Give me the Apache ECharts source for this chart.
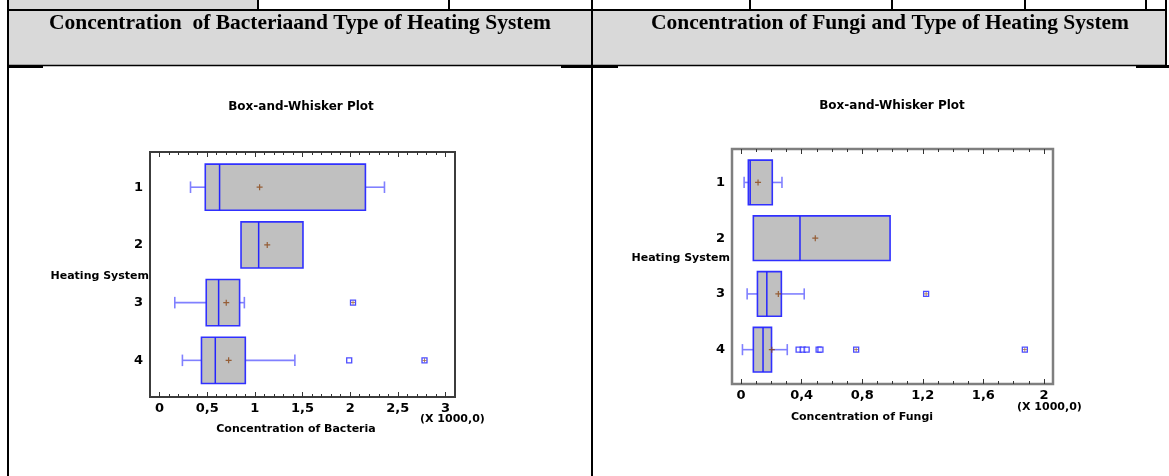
<!DOCTYPE html>
<html>
<head>
<meta charset="utf-8">
<script src="https://cdn.jsdelivr.net/npm/echarts@6/dist/echarts.min.js"></script>
<style>
  html, body { margin: 0; padding: 0; background: #fff; }
  #chart { width: 1169px; height: 476px; }
</style>
</head>
<body>
<div id="chart"></div>
<script>
// Heating system groups (y categories, top to bottom)
const heatingSystems = ['1', '2', '3', '4'];

// Bacteria: [lower whisker, Q1, median, Q3, upper whisker] per heating system
const bacteriaBox = [
  [325, 480, 630, 2160, 2360],
  [855, 855, 1040, 1505, 1505],
  [160, 490, 620, 840, 890],
  [240, 440, 585, 900, 1420]
];
const bacteriaMean = [1050, 1130, 700, 725];
const bacteriaOutside = [[], [], [], [1990]];
const bacteriaFarOutside = [[], [], [2030], [2780]];
const bacteriaTicks = [0, 500, 1000, 1500, 2000, 2500, 3000];

// Fungi: [lower whisker, Q1, median, Q3, upper whisker] per heating system
const fungiBox = [
  [20, 48, 60, 206, 270],
  [81, 81, 389, 984, 984],
  [40, 108, 170, 266, 417],
  [9, 81, 145, 201, 305]
];
const fungiMean = [112, 490, 246, 203];
const fungiOutside = [[], [], [], [380, 407, 433, 512, 524]];
const fungiFarOutside = [[], [], [1222], [760, 1874]];
const fungiTicks = [0, 400, 800, 1200, 1600, 2000];

const FONT = '"DejaVu Sans", Verdana, sans-serif';
const TEXT_FONT = 'bold 11px ' + FONT;
const HEAD_FONT = 'bold 21.5px "Liberation Serif", "Times New Roman", serif';
const BOX_FILL = '#c0c0c0';
const BOX_LINE = '#3030ff';
const WHISKER_LINE = '#8080ff';
const MEAN_COLOR = '#8b4513';
const PLUS = 'path://M2,0H3V2H5V3H3V5H2V3H0V2H2Z';

function minorTicks(maxVal) {
  const out = [];
  for (let v = 0; v <= maxVal; v += 100) out.push(v);
  return out;
}

function thousands(v) {
  return String(Math.round(v) / 1000).replace('.', ',');
}

// Four x axes per grid: bottom labels + major ticks, bottom minor ticks, top major, top minor
function xAxesFor(gridIndex, min, max, majors) {
  const base = {
    gridIndex, type: 'value', min, max,
    axisLine: { show: false }, splitLine: { show: false }
  };
  const minors = minorTicks(majors[majors.length - 1]);
  return [
    Object.assign({}, base, {
      position: 'bottom',
      axisTick: { inside: true, length: 5, customValues: majors, lineStyle: { color: '#333', width: 1 } },
      axisLabel: {
        customValues: majors, formatter: thousands, margin: 5,
        color: '#000', fontWeight: 'bold', fontSize: 13, fontFamily: FONT
      }
    }),
    Object.assign({}, base, {
      position: 'bottom',
      axisTick: { inside: true, length: 3, customValues: minors, lineStyle: { color: '#333', width: 1 } },
      axisLabel: { show: false }
    }),
    Object.assign({}, base, {
      position: 'top',
      axisTick: { inside: true, length: 5, customValues: majors, lineStyle: { color: '#333', width: 1 } },
      axisLabel: { show: false }
    }),
    Object.assign({}, base, {
      position: 'top',
      axisTick: { inside: true, length: 3, customValues: minors, lineStyle: { color: '#333', width: 1 } },
      axisLabel: { show: false }
    })
  ];
}

function yAxisFor(gridIndex, min, max) {
  return {
    gridIndex, type: 'value', inverse: true, min, max,
    axisLine: { show: false }, axisTick: { show: false }, splitLine: { show: false },
    axisLabel: {
      customValues: [1, 2, 3, 4],
      formatter: v => heatingSystems[Math.round(v) - 1],
      margin: 7, color: '#000', fontWeight: 'bold', fontSize: 13, fontFamily: FONT
    }
  };
}

// Box, whiskers, caps and median for one heating system
function renderBox(params, api) {
  const y = api.value(0);
  const low = api.coord([api.value(1), y]);
  const q1 = api.coord([api.value(2), y]);
  const med = api.coord([api.value(3), y]);
  const q3 = api.coord([api.value(4), y]);
  const high = api.coord([api.value(5), y]);
  const half = api.size([0, 0.8])[1] / 2;
  const cap = api.size([0, 0.2])[1] / 2;
  const cy = low[1];
  const wStyle = { stroke: WHISKER_LINE, lineWidth: 1.6 };
  const children = [];
  if (q1[0] - low[0] > 0.5) {
    children.push({ type: 'line', shape: { x1: low[0], y1: cy, x2: q1[0], y2: cy }, style: wStyle });
    children.push({ type: 'line', shape: { x1: low[0], y1: cy - cap, x2: low[0], y2: cy + cap }, style: wStyle });
  }
  if (high[0] - q3[0] > 0.5) {
    children.push({ type: 'line', shape: { x1: q3[0], y1: cy, x2: high[0], y2: cy }, style: wStyle });
    children.push({ type: 'line', shape: { x1: high[0], y1: cy - cap, x2: high[0], y2: cy + cap }, style: wStyle });
  }
  children.push({
    type: 'rect',
    shape: { x: q1[0], y: cy - half, width: q3[0] - q1[0], height: half * 2 },
    style: { fill: BOX_FILL, stroke: BOX_LINE, lineWidth: 1.6 }
  });
  children.push({
    type: 'line',
    shape: { x1: med[0], y1: cy - half, x2: med[0], y2: cy + half },
    style: { stroke: '#2424ff', lineWidth: 1.5 }
  });
  return { type: 'group', children };
}

function seriesFor(gridAxis, box, mean, outside, farOutside) {
  const boxData = box.map((b, i) => [i + 1].concat(b));
  const meanData = mean.map((m, i) => [m, i + 1]);
  const outData = outside.flatMap((vals, i) => vals.map(v => [v, i + 1]));
  const farData = farOutside.flatMap((vals, i) => vals.map(v => [v, i + 1]));
  const axes = { xAxisIndex: gridAxis * 4, yAxisIndex: gridAxis };
  return [
    Object.assign({
      type: 'custom', renderItem: renderBox, data: boxData,
      encode: { x: [1, 2, 3, 4, 5], y: 0 }, z: 2, silent: true
    }, axes),
    Object.assign({
      type: 'scatter', data: outData.concat(farData), symbol: 'rect', symbolSize: 5,
      itemStyle: { color: '#ffffff', borderColor: '#2020ff', borderWidth: 1.3 }, z: 3, silent: true
    }, axes),
    Object.assign({
      type: 'scatter', data: farData, symbol: PLUS, symbolSize: 4,
      itemStyle: { color: MEAN_COLOR }, z: 4, silent: true
    }, axes),
    Object.assign({
      type: 'scatter', data: meanData, symbol: PLUS, symbolSize: 6,
      itemStyle: { color: MEAN_COLOR }, z: 4, silent: true
    }, axes)
  ];
}

function text(str, x, y, font, align) {
  return {
    type: 'text', z: 10, silent: true,
    style: { text: str, x, y, font: font || TEXT_FONT, fill: '#000',
             textAlign: align || 'center', textVerticalAlign: 'middle' }
  };
}
function hline(x1, x2, y, w) {
  return { type: 'line', z: 5, silent: true, shape: { x1, y1: y, x2, y2: y }, style: { stroke: '#000', lineWidth: w } };
}
function vline(x, y1, y2, w) {
  return { type: 'line', z: 5, silent: true, shape: { x1: x, y1, x2: x, y2 }, style: { stroke: '#000', lineWidth: w } };
}

// Table frame around the two panels
const tableGraphics = [
  { type: 'rect', z: 1, silent: true, shape: { x: 8, y: 0, width: 250, height: 10 }, style: { fill: '#d9d9d9' } },
  { type: 'rect', z: 1, silent: true, shape: { x: 8, y: 10, width: 1158, height: 55.5 }, style: { fill: '#d9d9d9' } },
  hline(7, 1167, 10, 2),
  hline(7, 1167, 65.5, 1.5),
  hline(7, 43, 66.5, 3),
  hline(561, 618, 66.5, 3),
  hline(1136, 1169, 66.5, 3),
  vline(8, 0, 476, 2),
  vline(592, 0, 476, 2),
  vline(258, 0, 10, 2),
  vline(449, 0, 10, 2),
  vline(750, 0, 10, 2),
  vline(892, 0, 10, 2),
  vline(1025, 0, 10, 2),
  vline(1146, 0, 10, 2),
  vline(1166, 0, 66, 2),
  text('Concentration  of Bacteriaand Type of Heating System', 300, 23, HEAD_FONT),
  text('Concentration of Fungi and Type of Heating System', 890, 23, HEAD_FONT)
];

const chartText = [
  text('Box-and-Whisker Plot', 301, 107, 'bold 12px ' + FONT),
  text('Heating System', 149, 276, TEXT_FONT, 'right'),
  text('Concentration of Bacteria', 296, 429),
  text('(X 1000,0)', 420, 419, TEXT_FONT, 'left'),
  text('Box-and-Whisker Plot', 892, 106, 'bold 12px ' + FONT),
  text('Heating System', 730, 258, TEXT_FONT, 'right'),
  text('Concentration of Fungi', 862, 417),
  text('(X 1000,0)', 1017, 407, TEXT_FONT, 'left')
];

const chart = echarts.init(document.getElementById('chart'), null, { renderer: 'canvas' });
chart.setOption({
  backgroundColor: '#ffffff',
  animation: false,
  grid: [
    { left: 150, top: 152, width: 305, height: 245, show: true, borderColor: '#3c3c3c', borderWidth: 2, backgroundColor: 'transparent' },
    { left: 732, top: 149, width: 321, height: 235, show: true, borderColor: '#7f7f7f', borderWidth: 2.5, backgroundColor: 'transparent' }
  ],
  xAxis: xAxesFor(0, -100, 3100, bacteriaTicks).concat(xAxesFor(1, -60, 2060, fungiTicks)),
  yAxis: [yAxisFor(0, 0.39, 4.635), yAxisFor(1, 0.4, 4.616)],
  series: seriesFor(0, bacteriaBox, bacteriaMean, bacteriaOutside, bacteriaFarOutside)
    .concat(seriesFor(1, fungiBox, fungiMean, fungiOutside, fungiFarOutside)),
  graphic: tableGraphics.concat(chartText)
});
</script>
</body>
</html>
